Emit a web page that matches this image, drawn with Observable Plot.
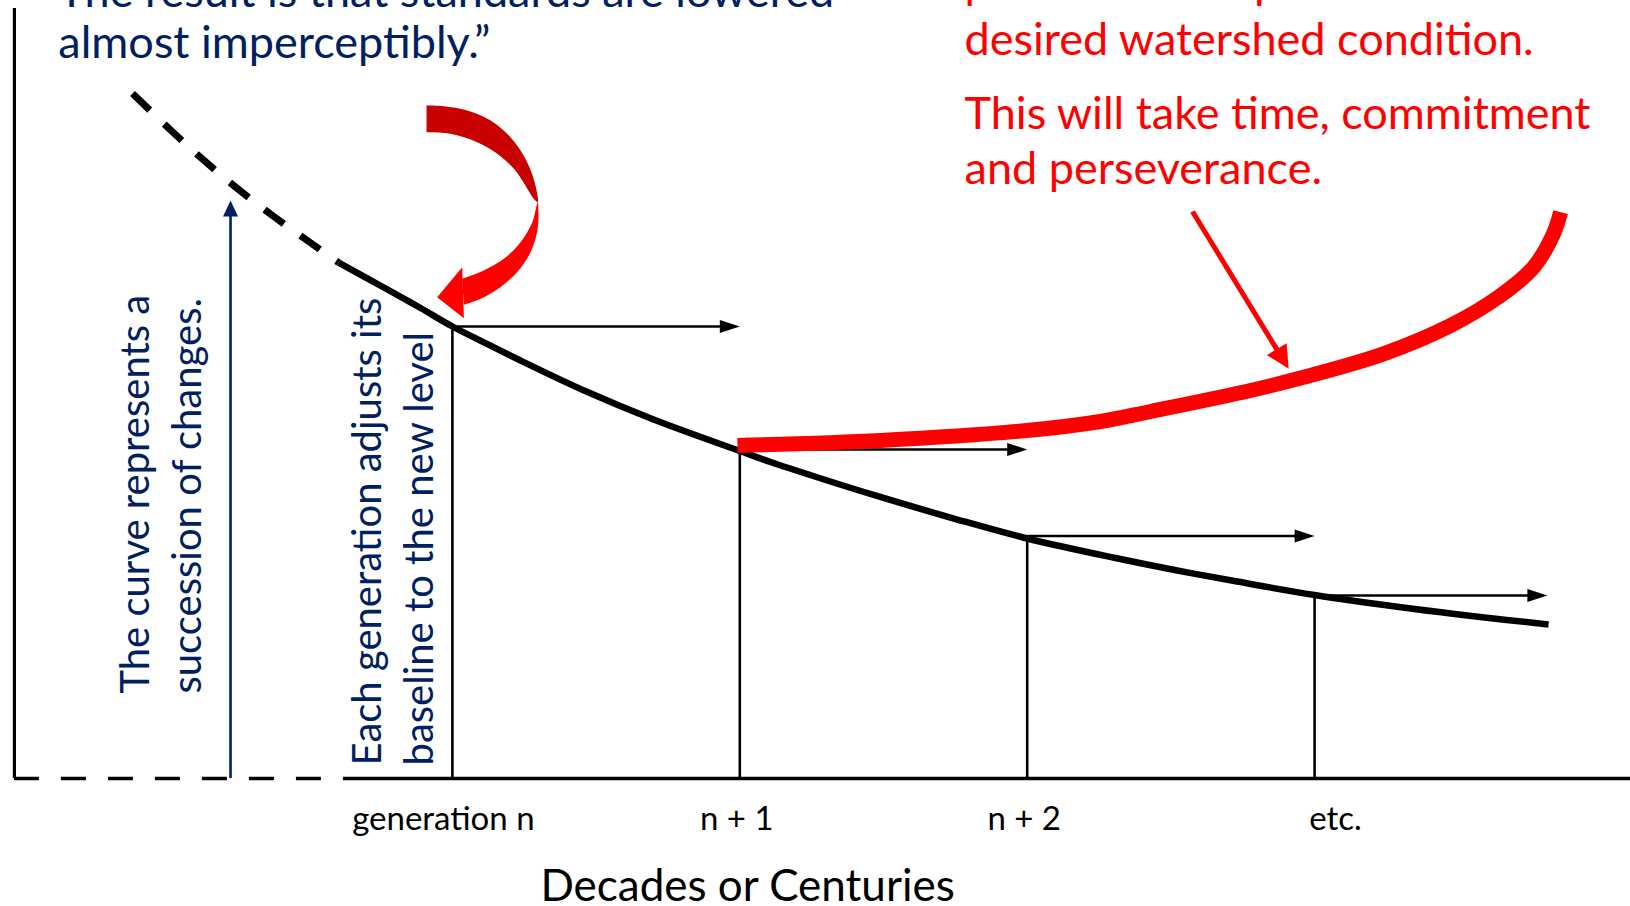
<!DOCTYPE html>
<html>
<head>
<meta charset="utf-8">
<script src="https://cdn.jsdelivr.net/npm/d3@7"></script>
<script src="https://cdn.jsdelivr.net/npm/@observablehq/plot@0.6"></script>
<style>
  html, body { margin: 0; padding: 0; background: #fff; }
  #chart { width: 1630px; height: 906px; overflow: hidden; }
</style>
</head>
<body>
<div id="chart"></div>
<script>
// ---------------- data (x: generations, y: condition level) ----------------
const genLabels = ["generation n", "n + 1", "n + 2", "etc."];
const genX = [1, 2, 3, 4];
const genLevel = [64.57, 47.0, 34.64, 26.14];
const arrowEnd = [2, 3, 4, 4.81];

// dashed (historic) part of the curve
const pastX = [-0.113, 0.023, 0.134, 0.256, 0.381, 0.510, 0.604];
const pastY = [97.86, 92.5, 88.36, 84.14, 80.21, 76.43, 73.71];

// solid part of the curve
const curveX = [0.604, 0.774, 0.889, 1.0, 1.122, 1.237, 1.470, 1.700, 2.0, 2.107, 2.277, 2.483, 2.751, 3.0, 3.307, 3.513, 3.721, 4.0, 4.341, 4.546, 4.814];
const curveY = [73.71, 69.86, 67.21, 64.57, 62.06, 59.71, 55.21, 51.29, 46.79, 45.21, 42.93, 40.29, 37.07, 34.29, 31.5, 29.79, 28.21, 26.21, 24.24, 23.21, 22.0];

// red recovery curve
const goalX = [1.992, 2.490, 2.998, 3.255, 3.429, 3.777, 3.951, 4.240, 4.473, 4.647, 4.762, 4.831, 4.856];
const goalY = [47.57, 48.29, 49.71, 51.0, 52.43, 55.43, 57.21, 60.67, 64.71, 69.0, 73.04, 77.81, 80.9];

// red pointer arrow (start, tip)
const pointerX = [3.575, 3.910];
const pointerY = [81.0, 58.53];

// navy "succession of changes" arrow
const trendX = 0.228;
const trendTop = 82.57;

// curved arrow: dark upper ribbon (outer edge, then inner edge back)
const darkArcX = [0.910, 0.970, 1.052, 1.133, 1.202, 1.254, 1.286, 1.297, 1.283, 1.254, 1.214, 1.156, 1.086, 0.993, 0.910];
const darkArcY = [96.14, 96.04, 95.43, 94.0, 91.61, 88.53, 85.19, 82.33, 82.81, 84.71, 87.1, 89.24, 90.9, 92.1, 92.33];
// bright lower ribbon (inner edge up, then outer edge down)
const brightArcX = [1.034, 1.109, 1.179, 1.237, 1.278, 1.293, 1.297, 1.299, 1.289, 1.266, 1.225, 1.167, 1.098, 1.040];
const brightArcY = [71.39, 72.57, 74.24, 76.61, 79.47, 81.86, 82.33, 79.47, 77.1, 74.71, 72.33, 70.19, 68.53, 67.67];
// its head (base corner, tip, base corner)
const arcHeadX = [1.040, 0.947, 1.034];
const arcHeadY = [65.76, 68.76, 73.04];

// frame
const axisLeftX = -0.524;
const axisTop = 110.0;
const solidBaseStart = 0.621;

// texts
const quoteText = "The result is that standards are lowered\nalmost imperceptibly.\u201D";
const goalText1 = "practices to improve the\ndesired watershed condition.";
const goalText2 = "This will take time, commitment\nand perseverance.";
const curveNote = "The curve represents a\nsuccession of changes.";
const baselineNote = "Each generation adjusts its\nbaseline to the new level";
const xTitle = "Decades or Centuries";

// ---------------- chart ----------------
const W = 1630, H = 906;
const X0 = -0.57237, X1 = 5.09916;
const Y0 = -128 / 7, Y1 = 778 / 7;
const KX = W / (X1 - X0), KY = H / (Y1 - Y0);
const NAVY = "#002060", RED = "#ff0000", DARKRED = "#c80000";
const FONT = "Lato, 'Open Sans', sans-serif";

const pts = (xs, ys) => xs.map((x, i) => ({x, y: ys[i]}));

// filled triangular arrow head; angle in screen degrees (0 = right, 90 = down)
function head(tipX, tipY, angle, L, Wd, id) {
  const a = angle * Math.PI / 180, ux = Math.cos(a), uy = Math.sin(a);
  const px = -uy, py = ux;
  const bx = -L * ux, by = -L * uy;
  return [[0, 0], [bx + Wd / 2 * px, by + Wd / 2 * py], [bx - Wd / 2 * px, by - Wd / 2 * py]]
    .map(([dx, dy]) => ({x: tipX + dx / KX, y: tipY - dy / KY, id}));
}

const gens = genX.map((x, i) => ({x, level: genLevel[i], end: arrowEnd[i], label: genLabels[i]}));
const HL = 20, HW = 13;
const genHeads = gens.flatMap((g, i) => head(g.end, g.level, 0, HL, HW, "g" + i));

const trendHead = head(trendX, trendTop, -90, 16, 15, "t");

const pAngle = Math.atan2(-(pointerY[1] - pointerY[0]) * KY, (pointerX[1] - pointerX[0]) * KX) * 180 / Math.PI;
const pHeadL = 23;
const pointerHead = head(pointerX[1], pointerY[1], pAngle, pHeadL, 23, "p");
const pr = pAngle * Math.PI / 180;
const pointerShaft = [{
  x1: pointerX[0], y1: pointerY[0],
  x2: pointerX[1] - (pHeadL - 2) * Math.cos(pr) / KX,
  y2: pointerY[1] + (pHeadL - 2) * Math.sin(pr) / KY
}];

const txt = (s, o) => Plot.text([s], {text: d => d, fontFamily: FONT, ...o});
const tickLabel = (data, dx) => Plot.text(data, {x: "x", y: -7.29, dx, text: "label", textAnchor: "middle", lineAnchor: "bottom", fontSize: 33, fontFamily: FONT, fill: "#000"});

const chart = Plot.plot({
  width: W,
  height: H,
  margin: 0,
  x: {domain: [X0, X1], axis: null},
  y: {domain: [Y0, Y1], axis: null},
  style: {background: "#fff"},
  marks: [
    // frame
    Plot.ruleX([axisLeftX], {y1: 0, y2: axisTop, stroke: "#000", strokeWidth: 3.2}),
    Plot.ruleY([0], {x1: solidBaseStart, x2: X1, stroke: "#000", strokeWidth: 3.5}),
    Plot.ruleY([0], {x1: axisLeftX, x2: solidBaseStart, stroke: "#000", strokeWidth: 3.5, strokeDasharray: "25,22"}),

    // generation verticals and baseline arrows
    Plot.ruleX(gens, {x: "x", y1: 0, y2: "level", stroke: "#000", strokeWidth: 2.6}),
    Plot.link(gens, {x1: "x", y1: "level", x2: d => d.end - (HL - 2) / KX, y2: "level", stroke: "#000", strokeWidth: 2.6}),
    Plot.line(genHeads, {x: "x", y: "y", z: "id", fill: "#000", stroke: "none"}),

    // shifting baseline curve
    Plot.line(pts(pastX, pastY), {x: "x", y: "y", stroke: "#000", strokeWidth: 7, strokeDasharray: "24,20", strokeLinecap: "butt", curve: "catmull-rom"}),
    Plot.line(pts(curveX, curveY), {x: "x", y: "y", stroke: "#000", strokeWidth: 6.5, strokeLinecap: "butt", curve: "catmull-rom"}),

    // navy arrow
    Plot.ruleX([trendX], {y1: 0, y2: trendTop - 12 / KY, stroke: NAVY, strokeWidth: 2.6}),
    Plot.line(trendHead, {x: "x", y: "y", z: "id", fill: NAVY, stroke: "none"}),

    // red recovery curve
    Plot.line(pts(goalX, goalY), {x: "x", y: "y", stroke: RED, strokeWidth: 15, strokeLinecap: "butt", curve: "catmull-rom"}),

    // red pointer
    Plot.link(pointerShaft, {x1: "x1", y1: "y1", x2: "x2", y2: "y2", stroke: RED, strokeWidth: 5}),
    Plot.line(pointerHead, {x: "x", y: "y", z: "id", fill: RED, stroke: "none"}),

    // curved red arrow
    Plot.line(pts(darkArcX, darkArcY), {x: "x", y: "y", fill: DARKRED, stroke: "none", curve: "catmull-rom"}),
    Plot.line(pts(brightArcX, brightArcY), {x: "x", y: "y", fill: RED, stroke: "none", curve: "catmull-rom"}),
    Plot.line(pts(arcHeadX, arcHeadY), {x: "x", y: "y", fill: RED, stroke: "none"}),

    // annotations
    txt(quoteText, {x: -0.371, y: 102.86, textAnchor: "start", lineAnchor: "bottom", fontSize: 45, lineHeight: 1.133, fill: NAVY}),
    txt(goalText1, {x: 2.782, y: 103.29, textAnchor: "start", lineAnchor: "bottom", fontSize: 45, lineHeight: 1.267, fill: RED}),
    txt(goalText2, {x: 2.782, y: 85.0, textAnchor: "start", lineAnchor: "bottom", fontSize: 45, lineHeight: 1.222, fill: RED}),
    txt(curveNote, {x: 0.124, y: 12.14, rotate: -90, textAnchor: "start", lineAnchor: "bottom", fontSize: 40, lineHeight: 1.3, fill: NAVY}),
    txt(baselineNote, {x: 0.931, y: 1.86, rotate: -90, textAnchor: "start", lineAnchor: "bottom", fontSize: 40, lineHeight: 1.3, fill: NAVY}),

    // x labels
    tickLabel(gens.slice(0, 1), -9),
    tickLabel(gens.slice(1, 3), -3),
    tickLabel(gens.slice(3), 21),
    txt(xTitle, {x: 2.027, y: -17.57, textAnchor: "middle", lineAnchor: "bottom", fontSize: 44, fill: "#000"})
  ]
});

document.getElementById("chart").appendChild(chart);
</script>
</body>
</html>
